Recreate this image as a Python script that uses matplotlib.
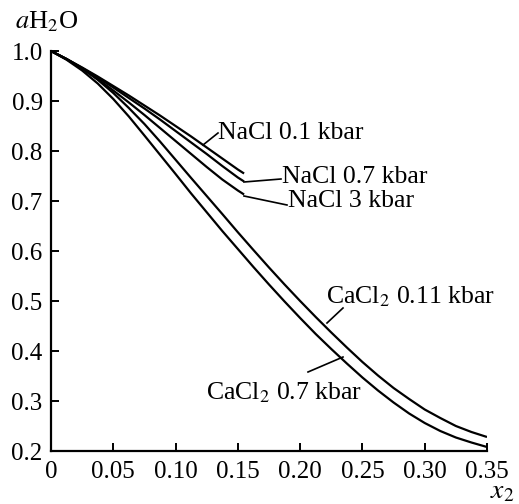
import matplotlib
matplotlib.use("Agg")
import matplotlib.pyplot as plt

plt.rcParams['font.family'] = ['Liberation Serif', 'DejaVu Serif']
plt.rcParams['mathtext.fontset'] = 'stix'

# water activity vs mole fraction of salt
x_nacl = [0, 0.0125, 0.025, 0.0375, 0.05, 0.0625, 0.075, 0.0875,
          0.10, 0.1125, 0.125, 0.1375, 0.15, 0.155]
nacl_01 = [1.0, 0.984, 0.967, 0.949, 0.930, 0.911, 0.891, 0.871,
           0.850, 0.829, 0.807, 0.785, 0.763, 0.755]
nacl_07 = [1.0, 0.984, 0.966, 0.947, 0.927, 0.906, 0.885, 0.863,
           0.840, 0.817, 0.794, 0.770, 0.747, 0.739]
nacl_3 = [1.0, 0.9835, 0.965, 0.944, 0.921, 0.897, 0.872, 0.846,
          0.820, 0.794, 0.768, 0.743, 0.721, 0.713]

x_cacl2 = [0, 0.0125, 0.025, 0.0375, 0.05, 0.0625, 0.075, 0.0875,
           0.10, 0.1125, 0.125, 0.1375, 0.15, 0.1625, 0.175, 0.1875,
           0.20, 0.2125, 0.225, 0.2375, 0.25, 0.2625, 0.275, 0.2875,
           0.30, 0.3125, 0.325, 0.3375, 0.35]
cacl2_011 = [1.0, 0.984, 0.965, 0.9425, 0.916, 0.886, 0.854, 0.819,
             0.7825, 0.746, 0.710, 0.674, 0.6375, 0.602, 0.567, 0.533,
             0.500, 0.468, 0.437, 0.407, 0.378, 0.351, 0.326, 0.304,
             0.283, 0.266, 0.250, 0.238, 0.228]
cacl2_07 = [1.0, 0.9825, 0.961, 0.935, 0.904, 0.869, 0.831, 0.7925,
            0.754, 0.715, 0.6775, 0.640, 0.604, 0.568, 0.533, 0.499,
            0.466, 0.434, 0.404, 0.375, 0.347, 0.321, 0.297, 0.275,
            0.256, 0.240, 0.227, 0.217, 0.208]

xticks = [0, 0.05, 0.10, 0.15, 0.20, 0.25, 0.30, 0.35]
xtick_labels = ["0", "0.05", "0.10", "0.15", "0.20", "0.25", "0.30", "0.35"]
yticks = [0.2, 0.3, 0.4, 0.5, 0.6, 0.7, 0.8, 0.9, 1.0]

fig = plt.figure(figsize=(5.19, 5.04), dpi=100)
ax = fig.add_axes([51 / 519, 53 / 504, 436 / 519, 400 / 504])

lw = 1.6
for yy in (nacl_01, nacl_07, nacl_3):
    ax.plot(x_nacl, yy, color='black', lw=lw, solid_capstyle='butt')
for yy in (cacl2_011, cacl2_07):
    ax.plot(x_cacl2, yy, color='black', lw=lw, solid_capstyle='butt')

ax.set_xlim(0, 0.35)
ax.set_ylim(0.2, 1.0)
ax.set_xticks(xticks)
ax.set_xticklabels(xtick_labels)
ax.set_yticks(yticks)
ax.set_yticklabels(["%.1f" % v for v in yticks])

for s in ('top', 'right'):
    ax.spines[s].set_visible(False)
for s in ('left', 'bottom'):
    ax.spines[s].set_linewidth(1.6)
ax.tick_params(direction='in', length=6, width=1.4, labelsize=18)
ax.tick_params(axis='y', pad=6)
ax.tick_params(axis='x', pad=7)

fs = 18.5
lab_lw = 1.2

# labels with leader lines (pixel positions converted to data)
def px(xp, yp):
    return (xp - 51) / 436 * 0.35, 0.2 + (451 - yp) / 400 * 0.8

ax.plot(*zip(px(218, 133), px(203, 145)), color='black', lw=lab_lw, clip_on=False)
ax.text(*px(218, 133), "NaCl 0.1 kbar", fontsize=fs, va='center', ha='left')

ax.plot(*zip(px(281, 179), px(244, 182)), color='black', lw=lab_lw, clip_on=False)
ax.text(*px(282, 177), "NaCl 0.7 kbar", fontsize=fs, va='center', ha='left')

ax.plot(*zip(px(287, 205), px(244, 196)), color='black', lw=lab_lw, clip_on=False)
ax.text(*px(288, 201), "NaCl 3 kbar", fontsize=fs, va='center', ha='left')

ax.plot(*zip(px(343, 308), px(327, 323)), color='black', lw=lab_lw, clip_on=False)
ax.text(*px(326, 297), "CaCl$_2$ 0.11 kbar", fontsize=fs, va='center', ha='left')

ax.plot(*zip(px(308, 372), px(343, 357)), color='black', lw=lab_lw, clip_on=False)
ax.text(*px(362, 393), "CaCl$_2$ 0.7 kbar", fontsize=fs, va='center', ha='right')

fig.text(15 / 519, 1 - 22 / 504, "$a$H$_2$O", fontsize=19, va='center', ha='left')
fig.text(490 / 519, 1 - 492 / 504, "$x_2$", fontsize=20, va='center', ha='left')

fig.savefig("out.png", dpi=100)
